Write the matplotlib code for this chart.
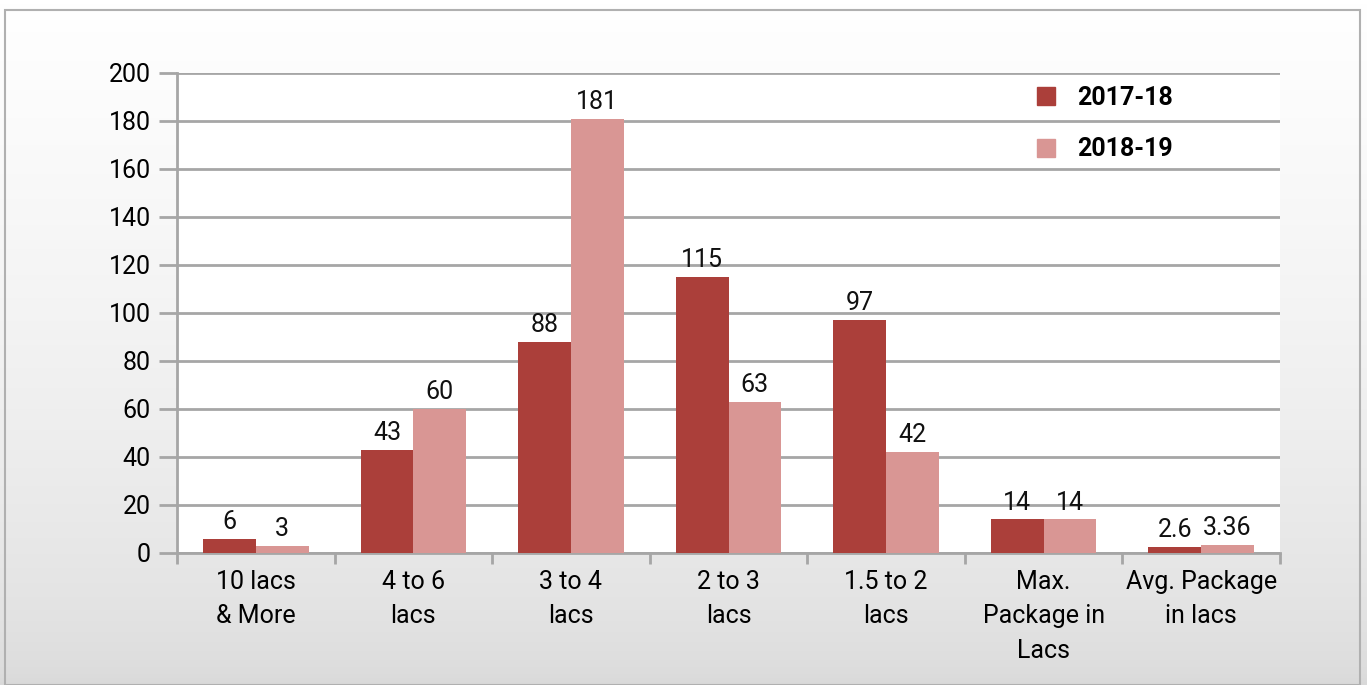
import matplotlib.pyplot as plt
import numpy as np
from matplotlib.patches import Rectangle
from matplotlib.lines import Line2D
from matplotlib.colors import LinearSegmentedColormap

categories = ["10 lacs\n& More", "4 to 6\nlacs", "3 to 4\nlacs", "2 to 3\nlacs",
              "1.5 to 2\nlacs", "Max.\nPackage in\nLacs", "Avg. Package\nin lacs"]
y2017 = [6, 43, 88, 115, 97, 14, 2.6]
y2018 = [3, 60, 181, 63, 42, 14, 3.36]
labels2017 = ["6", "43", "88", "115", "97", "14", "2.6"]
labels2018 = ["3", "60", "181", "63", "42", "14", "3.36"]
series_names = ["2017-18", "2018-19"]

DARK = "#ab3f3a"
LIGHT = "#d99694"
GRID = "#a6a6a6"

plt.rcParams["font.family"] = ["Roboto", "DejaVu Sans"]

fig = plt.figure(figsize=(13.67, 6.85), dpi=100)

# gradient background, white at top to light grey at bottom
bg = fig.add_axes([0, 0, 1, 1], zorder=-10)
grad = np.linspace(0.0, 1.0, 256) ** 0.6
grad = grad.reshape(-1, 1)
cmap = LinearSegmentedColormap.from_list("bg", ["#d9d9d9", "#ffffff"])
bg.imshow(grad, aspect="auto", cmap=cmap, extent=[0, 1, 0, 1], origin="lower")
bg.add_patch(Rectangle((0.004, 0.0), 0.991, 0.985, fill=False, edgecolor="#b0b0b0",
                       linewidth=1.5, transform=bg.transAxes))
bg.set_xlim(0, 1)
bg.set_ylim(0, 1)
bg.set_axis_off()

ax = fig.add_axes([177 / 1367, 1 - 553 / 685, (1280 - 177) / 1367, (553 - 73) / 685])
ax.set_facecolor("white")

x = np.arange(len(categories))
w = 0.335
b1 = ax.bar(x - w / 2, y2017, w, color=DARK, zorder=3, label=series_names[0])
b2 = ax.bar(x + w / 2, y2018, w, color=LIGHT, zorder=3, label=series_names[1])

for rect, lab in zip(b1, labels2017):
    ax.text(rect.get_x() + rect.get_width() / 2, rect.get_height() + 2, lab,
            ha="center", va="bottom", fontsize=18, color="#111111")
for rect, lab in zip(b2, labels2018):
    ax.text(rect.get_x() + rect.get_width() / 2, rect.get_height() + 2, lab,
            ha="center", va="bottom", fontsize=18, color="#111111")

ax.set_xlim(-0.5, len(categories) - 0.5)
ax.set_ylim(0, 200)
ax.set_yticks(np.arange(0, 201, 20))
ax.yaxis.grid(True, color=GRID, linewidth=2, zorder=0)
ax.set_axisbelow(True)

for s in ["top", "right"]:
    ax.spines[s].set_visible(False)
ax.spines["left"].set_color(GRID)
ax.spines["left"].set_linewidth(2)
ax.spines["bottom"].set_color(GRID)
ax.spines["bottom"].set_linewidth(2)

ax.tick_params(axis="y", length=13, width=2, color=GRID, labelsize=18, pad=6)
ax.set_xticks(np.arange(-0.5, len(categories), 1.0))
ax.set_xticklabels([])
ax.tick_params(axis="x", which="major", length=8, width=2, color=GRID)
ax.set_xticks(x, minor=True)
ax.set_xticklabels(categories, minor=True, fontsize=18, linespacing=1.55)
ax.tick_params(axis="x", which="minor", length=0, pad=12)

handles = [Line2D([], [], marker="s", linestyle="", markersize=13, color=c)
           for c in (DARK, LIGHT)]
leg = ax.legend(handles, series_names, loc="upper left", bbox_to_anchor=(0.745, 1.02),
                frameon=False, fontsize=18, labelspacing=1.1, handletextpad=0.25)
for t in leg.get_texts():
    t.set_fontweight("bold")

fig.savefig("out.png", dpi=100)
